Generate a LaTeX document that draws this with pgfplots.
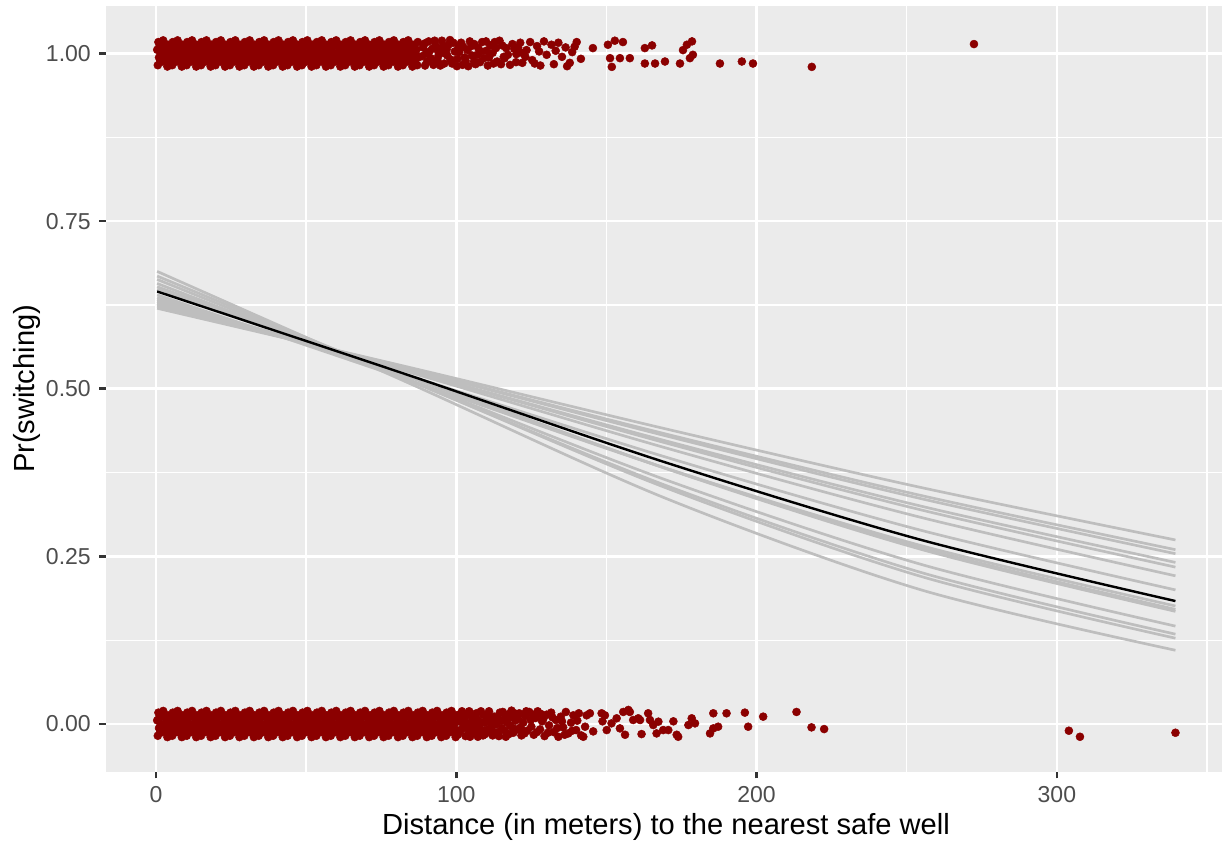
\documentclass[border=0pt]{standalone}
\usepackage{fontspec}
\setmainfont{Liberation Sans}
\usepackage{pgfplots}
\pgfplotsset{compat=1.18}
\definecolor{panelbg}{HTML}{EBEBEB}
\definecolor{tickgray}{HTML}{4D4D4D}
\definecolor{tickmark}{HTML}{333333}
\definecolor{ptred}{HTML}{8B0000}
\definecolor{simgray}{HTML}{BEBEBE}
\begin{document}
\begin{tikzpicture}
\path[use as bounding box] (-43.72bp,-28.58bp) rectangle (460.28bp,318.28bp);
\begin{axis}[
 scale only axis, width=460.28bp, height=315.81bp,
 at={(0,0)}, anchor=south west,
 xmin=-16.65, xmax=355.0, ymin=-0.0711, ymax=1.0708,
 axis background/.style={fill=panelbg},
 axis line style={draw=none},
 xtick={0,100,200,300}, ytick={0,0.25,0.5,0.75,1},
 yticklabels={0.00,0.25,0.50,0.75,1.00},
 xticklabels={0,100,200,300},
 minor xtick={50,150,250,350}, minor ytick={0.125,0.375,0.625,0.875},
 grid=both,
 major grid style={draw=white, line width=1.07bp},
 minor grid style={draw=white, line width=0.53bp},
 tick align=outside, major tick length=2.75bp, minor tick length=0pt,
 xtick pos=bottom, ytick pos=left,
 tick style={draw=tickmark, line width=1.07bp},
 ticklabel style={font=\fontsize{9.5bp}{11bp}\selectfont, text=tickgray},
 xlabel={Distance (in meters) to the nearest safe well},
 ylabel={Pr(switching)},
 label style={font=\fontsize{12bp}{14bp}\selectfont, text=black},
 xlabel style={at={(rel axis cs:0.5018,-0.0826)}, anchor=base},
 ylabel style={at={(rel axis cs:-0.0645,0.5)}, anchor=base},
 clip=true
]
% simulated fits (grey)
\addplot[simgray, line width=1.1bp, smooth] coordinates {(0.387,0.675)(85.2,0.5064)(169.9,0.3363)(254.7,0.2002)(339.5,0.110)};
\addplot[simgray, line width=1.1bp, smooth] coordinates {(0.387,0.668)(85.2,0.5111)(169.9,0.3521)(254.7,0.2202)(339.5,0.128)};
\addplot[simgray, line width=1.1bp, smooth] coordinates {(0.387,0.663)(85.2,0.5102)(169.9,0.3556)(254.7,0.2261)(339.5,0.134)};
\addplot[simgray, line width=1.1bp, smooth] coordinates {(0.387,0.657)(85.2,0.5114)(169.9,0.3639)(254.7,0.2382)(339.5,0.146)};
\addplot[simgray, line width=1.1bp, smooth] coordinates {(0.387,0.652)(85.2,0.5177)(169.9,0.3808)(254.7,0.2606)(339.5,0.168)};
\addplot[simgray, line width=1.1bp, smooth] coordinates {(0.387,0.648)(85.2,0.5158)(169.9,0.3813)(254.7,0.2628)(339.5,0.171)};
\addplot[simgray, line width=1.1bp, smooth] coordinates {(0.387,0.640)(85.2,0.5114)(169.9,0.3813)(254.7,0.2662)(339.5,0.176)};
\addplot[simgray, line width=1.1bp, smooth] coordinates {(0.387,0.636)(85.2,0.5180)(169.9,0.3979)(254.7,0.2890)(339.5,0.200)};
\addplot[simgray, line width=1.1bp, smooth] coordinates {(0.387,0.633)(85.2,0.5235)(169.9,0.4116)(254.7,0.3082)(339.5,0.221)};
\addplot[simgray, line width=1.1bp, smooth] coordinates {(0.387,0.630)(85.2,0.5257)(169.9,0.4190)(254.7,0.3194)(339.5,0.234)};
\addplot[simgray, line width=1.1bp, smooth] coordinates {(0.387,0.627)(85.2,0.5257)(169.9,0.4221)(254.7,0.3250)(339.5,0.241)};
\addplot[simgray, line width=1.1bp, smooth] coordinates {(0.387,0.625)(85.2,0.5284)(169.9,0.4296)(254.7,0.3362)(339.5,0.254)};
\addplot[simgray, line width=1.1bp, smooth] coordinates {(0.387,0.623)(85.2,0.5288)(169.9,0.4324)(254.7,0.3409)(339.5,0.260)};
\addplot[simgray, line width=1.1bp, smooth] coordinates {(0.387,0.620)(85.2,0.5310)(169.9,0.4400)(254.7,0.3528)(339.5,0.2745)};
% fitted curve (black)
\addplot[black, line width=1.0bp, smooth] coordinates {(0.387,0.645)(85.2,0.5186)(169.9,0.3898)(254.7,0.2747)(339.5,0.1834)};
% switched = 1 (jittered)
\addplot[only marks, mark=*, mark size=1.65bp, mark options={draw=ptred, fill=ptred, line width=0.2bp}] coordinates {
(0.6,0.9825)(1.0,0.994)(0.4,1.0055)(0.8,1.017)
(2.2,0.988)(2.6,0.9995)(1.9,1.011)(2.4,1.0195)
(3.8,0.9805)(4.2,0.991)(3.5,1.002)(4.0,1.013)
(5.4,0.9825)(5.8,0.994)(5.1,1.0055)(5.6,1.017)
(7.0,0.988)(7.4,0.9995)(6.7,1.011)(7.2,1.0195)
(8.6,0.9805)(9.0,0.991)(8.3,1.002)(8.8,1.013)
(10.2,0.9825)(10.6,0.994)(9.9,1.0055)(10.4,1.017)
(11.8,0.988)(12.2,0.9995)(11.5,1.011)(12.0,1.0195)
(13.4,0.9805)(13.8,0.991)(13.1,1.002)(13.6,1.013)
(15.0,0.9825)(15.4,0.994)(14.7,1.0055)(15.2,1.017)
(16.6,0.988)(17.0,0.9995)(16.3,1.011)(16.8,1.0195)
(18.2,0.9805)(18.6,0.991)(17.9,1.002)(18.4,1.013)
(19.8,0.9825)(20.2,0.994)(19.5,1.0055)(20.0,1.017)
(21.4,0.988)(21.8,0.9995)(21.1,1.011)(21.6,1.0195)
(23.0,0.9805)(23.4,0.991)(22.7,1.002)(23.2,1.013)
(24.6,0.9825)(25.0,0.994)(24.3,1.0055)(24.8,1.017)
(26.2,0.988)(26.6,0.9995)(25.9,1.011)(26.4,1.0195)
(27.8,0.9805)(28.2,0.991)(27.5,1.002)(28.0,1.013)
(29.4,0.9825)(29.8,0.994)(29.1,1.0055)(29.6,1.017)
(31.0,0.988)(31.4,0.9995)(30.7,1.011)(31.2,1.0195)
(32.6,0.9805)(33.0,0.991)(32.3,1.002)(32.8,1.013)
(34.2,0.9825)(34.6,0.994)(33.9,1.0055)(34.4,1.017)
(35.8,0.988)(36.2,0.9995)(35.5,1.011)(36.0,1.0195)
(37.4,0.9805)(37.8,0.991)(37.1,1.002)(37.6,1.013)
(39.0,0.9825)(39.4,0.994)(38.7,1.0055)(39.2,1.017)
(40.6,0.988)(41.0,0.9995)(40.3,1.011)(40.8,1.0195)
(42.2,0.9805)(42.6,0.991)(41.9,1.002)(42.4,1.013)
(43.8,0.9825)(44.2,0.994)(43.5,1.0055)(44.0,1.017)
(45.4,0.988)(45.8,0.9995)(45.1,1.011)(45.6,1.0195)
(47.0,0.9805)(47.4,0.991)(46.7,1.002)(47.2,1.013)
(48.6,0.9825)(49.0,0.994)(48.3,1.0055)(48.8,1.017)
(50.2,0.988)(50.6,0.9995)(49.9,1.011)(50.4,1.0195)
(51.8,0.9805)(52.2,0.991)(51.5,1.002)(52.0,1.013)
(53.4,0.9825)(53.8,0.994)(53.1,1.0055)(53.6,1.017)
(55.0,0.988)(55.4,0.9995)(54.7,1.011)(55.2,1.0195)
(56.6,0.9805)(57.0,0.991)(56.3,1.002)(56.8,1.013)
(58.2,0.9825)(58.6,0.994)(57.9,1.0055)(58.4,1.017)
(59.8,0.988)(60.2,0.9995)(59.5,1.011)(60.0,1.0195)
(61.4,0.9805)(61.8,0.991)(61.1,1.002)(61.6,1.013)
(63.0,0.9825)(63.4,0.994)(62.7,1.0055)(63.2,1.017)
(64.6,0.988)(65.0,0.9995)(64.3,1.011)(64.8,1.0195)
(66.2,0.9805)(66.6,0.991)(65.9,1.002)(66.4,1.013)
(67.8,0.9825)(68.2,0.994)(67.5,1.0055)(68.0,1.017)
(69.4,0.988)(69.8,0.9995)(69.1,1.011)(69.6,1.0195)
(71.0,0.9805)(71.4,0.991)(70.7,1.002)(71.2,1.013)
(72.6,0.9825)(73.0,0.994)(72.3,1.0055)(72.8,1.017)
(74.2,0.988)(74.6,0.9995)(73.9,1.011)(74.4,1.0195)
(75.8,0.9805)(76.2,0.991)(75.5,1.002)(76.0,1.013)
(77.4,0.9825)(77.8,0.994)(77.1,1.0055)(77.6,1.017)
(79.0,0.988)(79.4,0.9995)(78.7,1.011)(79.2,1.0195)
(80.6,0.9805)(81.0,0.991)(80.3,1.002)(80.8,1.013)
(82.2,0.9825)(82.6,0.994)(81.9,1.0055)(82.4,1.017)
(83.8,0.988)(84.2,0.9995)(83.5,1.011)(84.0,1.0195)
(85.4,0.9805)(85.8,0.991)(85.1,1.002)(85.6,1.013)
(87.0,0.9825)(87.4,0.994)(86.7,1.0055)(87.2,1.017)
(1.4,0.989)(1.6,1.000)(1.2,1.011)(3.0,0.989)(3.2,1.000)(2.8,1.011)(4.6,0.989)(4.8,1.000)(4.4,1.011)
(6.2,0.989)(6.4,1.000)(6.0,1.011)(7.8,0.989)(8.0,1.000)(7.6,1.011)(9.4,0.989)(9.6,1.000)(9.2,1.011)
(11.0,0.989)(11.2,1.000)(10.8,1.011)(12.6,0.989)(12.8,1.000)(12.4,1.011)(14.2,0.989)(14.4,1.000)(14.0,1.011)
(15.8,0.989)(16.0,1.000)(15.6,1.011)(17.4,0.989)(17.6,1.000)(17.2,1.011)(19.0,0.989)(19.2,1.000)(18.8,1.011)
(20.6,0.989)(20.8,1.000)(20.4,1.011)(22.2,0.989)(22.4,1.000)(22.0,1.011)(23.8,0.989)(24.0,1.000)(23.6,1.011)
(25.4,0.989)(25.6,1.000)(25.2,1.011)(27.0,0.989)(27.2,1.000)(26.8,1.011)(28.6,0.989)(28.8,1.000)(28.4,1.011)
(30.2,0.989)(30.4,1.000)(30.0,1.011)(31.8,0.989)(32.0,1.000)(31.6,1.011)(33.4,0.989)(33.6,1.000)(33.2,1.011)
(35.0,0.989)(35.2,1.000)(34.8,1.011)(36.6,0.989)(36.8,1.000)(36.4,1.011)(38.2,0.989)(38.4,1.000)(38.0,1.011)
(39.8,0.989)(40.0,1.000)(39.6,1.011)(41.4,0.989)(41.6,1.000)(41.2,1.011)(43.0,0.989)(43.2,1.000)(42.8,1.011)
(44.6,0.989)(44.8,1.000)(44.4,1.011)(46.2,0.989)(46.4,1.000)(46.0,1.011)(47.8,0.989)(48.0,1.000)(47.6,1.011)
(49.4,0.989)(49.6,1.000)(49.2,1.011)(51.0,0.989)(51.2,1.000)(50.8,1.011)(52.6,0.989)(52.8,1.000)(52.4,1.011)
(54.2,0.989)(54.4,1.000)(54.0,1.011)(55.8,0.989)(56.0,1.000)(55.6,1.011)(57.4,0.989)(57.6,1.000)(57.2,1.011)
(59.0,0.989)(59.2,1.000)(58.8,1.011)(60.6,0.989)(60.8,1.000)(60.4,1.011)(62.2,0.989)(62.4,1.000)(62.0,1.011)
(63.8,0.989)(64.0,1.000)(63.6,1.011)(65.4,0.989)(65.6,1.000)(65.2,1.011)(67.0,0.989)(67.2,1.000)(66.8,1.011)
(68.6,0.989)(68.8,1.000)(68.4,1.011)(70.2,0.989)(70.4,1.000)(70.0,1.011)(71.8,0.989)(72.0,1.000)(71.6,1.011)
(73.4,0.989)(73.6,1.000)(73.2,1.011)(75.0,0.989)(75.2,1.000)(74.8,1.011)(76.6,0.989)(76.8,1.000)(76.4,1.011)
(78.2,0.989)(78.4,1.000)(78.0,1.011)(79.8,0.989)(80.0,1.000)(79.6,1.011)(81.4,0.989)(81.6,1.000)(81.2,1.011)
(83.0,0.989)(83.2,1.000)(82.8,1.011)(84.6,0.989)(84.8,1.000)(84.4,1.011)(86.2,0.989)(86.4,1.000)(86.0,1.011)
(88.7,0.996)(89.5,1.015)(90.3,0.988)(90.8,1.018)(91.0,1.003)(92.0,1.007)(92.4,0.983)(93.1,1.012)(93.7,0.990)(94.0,0.996)
(95.2,1.019)(95.8,1.001)(96.0,0.985)(96.8,1.006)(97.4,1.013)(98.1,0.991)(98.6,0.985)(99.0,1.016)(100.2,0.981)(100.8,1.010)
(101.0,1.002)(102.3,1.010)(102.8,0.994)(103.1,0.989)(104.0,0.981)(104.5,1.018)(105.2,0.997)(106.0,1.014)(106.4,0.984)(107.3,1.008)
(107.9,0.987)(108.6,1.017)(109.2,0.993)(110.0,1.004)(110.5,0.982)(111.3,1.012)(112.1,1.001)(112.8,1.017)(113.6,0.988)(114.4,1.019)
(114.9,0.984)(115.8,0.995)(116.1,0.993)(116.6,1.008)(117.9,0.983)(118.7,1.014)(119.3,1.007)(120.0,0.999)(121.3,1.016)(121.8,1.001)
(122.0,0.986)(123.4,1.005)(124.6,1.017)(125.3,0.990)(126.9,1.011)(128.0,0.982)(129.2,1.018)(130.1,0.998)(131.7,1.013)(132.5,0.984)
(134.0,1.016)(135.2,0.995)(136.4,1.009)(137.8,0.986)(138.6,1.002)(140.1,1.017)(141.5,0.992)
(88.9,1.009)(89.6,0.982)(90.0,1.000)(91.5,0.993)(92.8,1.019)(93.9,1.004)(94.7,0.982)(95.5,1.011)(97.0,0.997)(97.9,1.020)
(99.5,1.003)(100.4,0.992)(101.6,1.016)(102.1,0.983)(103.7,1.005)(105.0,1.011)(105.9,0.988)(107.0,0.998)(108.2,1.003)(109.9,1.018)
(110.9,0.994)(112.4,0.985)(113.2,1.008)(115.3,1.012)(117.2,0.998)(119.9,0.987)(120.6,1.009)(123.0,0.995)(126.1,0.985)(127.6,1.003)
(133.1,1.004)(136.9,0.981)(139.4,1.010)
(145.5,1.008)(150.5,1.013)(152.8,1.019)(155.5,1.017)(151.2,0.993)(151.8,0.980)(154.5,0.993)(157.8,0.993)
(162.8,1.008)(165.2,1.012)(162.8,0.985)(166.2,0.985)(169.5,0.988)(174.5,0.985)(175.5,1.005)(176.8,1.013)
(178.5,1.018)(178.8,0.998)(177.8,0.993)(187.8,0.985)(195.1,0.988)(198.8,0.985)(218.4,0.980)(272.4,1.014)
};
% switched = 0 (jittered)
\addplot[only marks, mark=*, mark size=1.65bp, mark options={draw=ptred, fill=ptred, line width=0.2bp}] coordinates {
(0.6,-0.0175)(1.0,-0.006)(0.4,0.0055)(0.8,0.017)
(2.2,-0.012)(2.6,-0.0005)(1.9,0.011)(2.4,0.0195)
(3.8,-0.0195)(4.2,-0.009)(3.5,0.002)(4.0,0.013)
(5.4,-0.0175)(5.8,-0.006)(5.1,0.0055)(5.6,0.017)
(7.0,-0.012)(7.4,-0.0005)(6.7,0.011)(7.2,0.0195)
(8.6,-0.0195)(9.0,-0.009)(8.3,0.002)(8.8,0.013)
(10.2,-0.0175)(10.6,-0.006)(9.9,0.0055)(10.4,0.017)
(11.8,-0.012)(12.2,-0.0005)(11.5,0.011)(12.0,0.0195)
(13.4,-0.0195)(13.8,-0.009)(13.1,0.002)(13.6,0.013)
(15.0,-0.0175)(15.4,-0.006)(14.7,0.0055)(15.2,0.017)
(16.6,-0.012)(17.0,-0.0005)(16.3,0.011)(16.8,0.0195)
(18.2,-0.0195)(18.6,-0.009)(17.9,0.002)(18.4,0.013)
(19.8,-0.0175)(20.2,-0.006)(19.5,0.0055)(20.0,0.017)
(21.4,-0.012)(21.8,-0.0005)(21.1,0.011)(21.6,0.0195)
(23.0,-0.0195)(23.4,-0.009)(22.7,0.002)(23.2,0.013)
(24.6,-0.0175)(25.0,-0.006)(24.3,0.0055)(24.8,0.017)
(26.2,-0.012)(26.6,-0.0005)(25.9,0.011)(26.4,0.0195)
(27.8,-0.0195)(28.2,-0.009)(27.5,0.002)(28.0,0.013)
(29.4,-0.0175)(29.8,-0.006)(29.1,0.0055)(29.6,0.017)
(31.0,-0.012)(31.4,-0.0005)(30.7,0.011)(31.2,0.0195)
(32.6,-0.0195)(33.0,-0.009)(32.3,0.002)(32.8,0.013)
(34.2,-0.0175)(34.6,-0.006)(33.9,0.0055)(34.4,0.017)
(35.8,-0.012)(36.2,-0.0005)(35.5,0.011)(36.0,0.0195)
(37.4,-0.0195)(37.8,-0.009)(37.1,0.002)(37.6,0.013)
(39.0,-0.0175)(39.4,-0.006)(38.7,0.0055)(39.2,0.017)
(40.6,-0.012)(41.0,-0.0005)(40.3,0.011)(40.8,0.0195)
(42.2,-0.0195)(42.6,-0.009)(41.9,0.002)(42.4,0.013)
(43.8,-0.0175)(44.2,-0.006)(43.5,0.0055)(44.0,0.017)
(45.4,-0.012)(45.8,-0.0005)(45.1,0.011)(45.6,0.0195)
(47.0,-0.0195)(47.4,-0.009)(46.7,0.002)(47.2,0.013)
(48.6,-0.0175)(49.0,-0.006)(48.3,0.0055)(48.8,0.017)
(50.2,-0.012)(50.6,-0.0005)(49.9,0.011)(50.4,0.0195)
(51.8,-0.0195)(52.2,-0.009)(51.5,0.002)(52.0,0.013)
(53.4,-0.0175)(53.8,-0.006)(53.1,0.0055)(53.6,0.017)
(55.0,-0.012)(55.4,-0.0005)(54.7,0.011)(55.2,0.0195)
(56.6,-0.0195)(57.0,-0.009)(56.3,0.002)(56.8,0.013)
(58.2,-0.0175)(58.6,-0.006)(57.9,0.0055)(58.4,0.017)
(59.8,-0.012)(60.2,-0.0005)(59.5,0.011)(60.0,0.0195)
(61.4,-0.0195)(61.8,-0.009)(61.1,0.002)(61.6,0.013)
(63.0,-0.0175)(63.4,-0.006)(62.7,0.0055)(63.2,0.017)
(64.6,-0.012)(65.0,-0.0005)(64.3,0.011)(64.8,0.0195)
(66.2,-0.0195)(66.6,-0.009)(65.9,0.002)(66.4,0.013)
(67.8,-0.0175)(68.2,-0.006)(67.5,0.0055)(68.0,0.017)
(69.4,-0.012)(69.8,-0.0005)(69.1,0.011)(69.6,0.0195)
(71.0,-0.0195)(71.4,-0.009)(70.7,0.002)(71.2,0.013)
(72.6,-0.0175)(73.0,-0.006)(72.3,0.0055)(72.8,0.017)
(74.2,-0.012)(74.6,-0.0005)(73.9,0.011)(74.4,0.0195)
(75.8,-0.0195)(76.2,-0.009)(75.5,0.002)(76.0,0.013)
(77.4,-0.0175)(77.8,-0.006)(77.1,0.0055)(77.6,0.017)
(79.0,-0.012)(79.4,-0.0005)(78.7,0.011)(79.2,0.0195)
(80.6,-0.0195)(81.0,-0.009)(80.3,0.002)(80.8,0.013)
(82.2,-0.0175)(82.6,-0.006)(81.9,0.0055)(82.4,0.017)
(83.8,-0.012)(84.2,-0.0005)(83.5,0.011)(84.0,0.0195)
(85.4,-0.0195)(85.8,-0.009)(85.1,0.002)(85.6,0.013)
(87.0,-0.0175)(87.4,-0.006)(86.7,0.0055)(87.2,0.017)
(88.6,-0.012)(89.0,-0.0005)(88.3,0.011)(88.8,0.0195)
(90.2,-0.0195)(90.6,-0.009)(89.9,0.002)(90.4,0.013)
(91.8,-0.0175)(92.2,-0.006)(91.5,0.0055)(92.0,0.017)
(93.4,-0.012)(93.8,-0.0005)(93.1,0.011)(93.6,0.0195)
(95.0,-0.0195)(95.4,-0.009)(94.7,0.002)(95.2,0.013)
(96.6,-0.0175)(97.0,-0.006)(96.3,0.0055)(96.8,0.017)
(98.2,-0.012)(98.6,-0.0005)(97.9,0.011)(98.4,0.0195)
(99.8,-0.0195)(100.2,-0.009)(99.5,0.002)(100.0,0.013)
(1.4,-0.011)(1.6,0.000)(1.2,0.011)(3.0,-0.011)(3.2,0.000)(2.8,0.011)(4.6,-0.011)(4.8,0.000)(4.4,0.011)
(6.2,-0.011)(6.4,0.000)(6.0,0.011)(7.8,-0.011)(8.0,0.000)(7.6,0.011)(9.4,-0.011)(9.6,0.000)(9.2,0.011)
(11.0,-0.011)(11.2,0.000)(10.8,0.011)(12.6,-0.011)(12.8,0.000)(12.4,0.011)(14.2,-0.011)(14.4,0.000)(14.0,0.011)
(15.8,-0.011)(16.0,0.000)(15.6,0.011)(17.4,-0.011)(17.6,0.000)(17.2,0.011)(19.0,-0.011)(19.2,0.000)(18.8,0.011)
(20.6,-0.011)(20.8,0.000)(20.4,0.011)(22.2,-0.011)(22.4,0.000)(22.0,0.011)(23.8,-0.011)(24.0,0.000)(23.6,0.011)
(25.4,-0.011)(25.6,0.000)(25.2,0.011)(27.0,-0.011)(27.2,0.000)(26.8,0.011)(28.6,-0.011)(28.8,0.000)(28.4,0.011)
(30.2,-0.011)(30.4,0.000)(30.0,0.011)(31.8,-0.011)(32.0,0.000)(31.6,0.011)(33.4,-0.011)(33.6,0.000)(33.2,0.011)
(35.0,-0.011)(35.2,0.000)(34.8,0.011)(36.6,-0.011)(36.8,0.000)(36.4,0.011)(38.2,-0.011)(38.4,0.000)(38.0,0.011)
(39.8,-0.011)(40.0,0.000)(39.6,0.011)(41.4,-0.011)(41.6,0.000)(41.2,0.011)(43.0,-0.011)(43.2,0.000)(42.8,0.011)
(44.6,-0.011)(44.8,0.000)(44.4,0.011)(46.2,-0.011)(46.4,0.000)(46.0,0.011)(47.8,-0.011)(48.0,0.000)(47.6,0.011)
(49.4,-0.011)(49.6,0.000)(49.2,0.011)(51.0,-0.011)(51.2,0.000)(50.8,0.011)(52.6,-0.011)(52.8,0.000)(52.4,0.011)
(54.2,-0.011)(54.4,0.000)(54.0,0.011)(55.8,-0.011)(56.0,0.000)(55.6,0.011)(57.4,-0.011)(57.6,0.000)(57.2,0.011)
(59.0,-0.011)(59.2,0.000)(58.8,0.011)(60.6,-0.011)(60.8,0.000)(60.4,0.011)(62.2,-0.011)(62.4,0.000)(62.0,0.011)
(63.8,-0.011)(64.0,0.000)(63.6,0.011)(65.4,-0.011)(65.6,0.000)(65.2,0.011)(67.0,-0.011)(67.2,0.000)(66.8,0.011)
(68.6,-0.011)(68.8,0.000)(68.4,0.011)(70.2,-0.011)(70.4,0.000)(70.0,0.011)(71.8,-0.011)(72.0,0.000)(71.6,0.011)
(73.4,-0.011)(73.6,0.000)(73.2,0.011)(75.0,-0.011)(75.2,0.000)(74.8,0.011)(76.6,-0.011)(76.8,0.000)(76.4,0.011)
(78.2,-0.011)(78.4,0.000)(78.0,0.011)(79.8,-0.011)(80.0,0.000)(79.6,0.011)(81.4,-0.011)(81.6,0.000)(81.2,0.011)
(83.0,-0.011)(83.2,0.000)(82.8,0.011)(84.6,-0.011)(84.8,0.000)(84.4,0.011)(86.2,-0.011)(86.4,0.000)(86.0,0.011)
(87.8,-0.011)(88.0,0.000)(87.6,0.011)(89.4,-0.011)(89.6,0.000)(89.2,0.011)(91.0,-0.011)(91.2,0.000)(90.8,0.011)
(92.6,-0.011)(92.8,0.000)(92.4,0.011)(94.2,-0.011)(94.4,0.000)(94.0,0.011)(95.8,-0.011)(96.0,0.000)(95.6,0.011)
(97.4,-0.011)(97.6,0.000)(97.2,0.011)(99.0,-0.011)(99.2,0.000)(98.8,0.011)
(100.5,-0.016)(100.9,0.004)(101.4,0.015)(102.0,-0.007)(102.6,0.010)(103.1,-0.018)(103.7,0.001)(104.3,0.019)(104.9,-0.011)(105.4,0.008)
(106.0,-0.003)(106.7,0.016)(107.2,-0.019)(107.8,0.003)(108.5,-0.009)(109.1,0.013)(109.6,-0.015)(110.2,0.006)(110.9,0.019)(111.5,-0.004)
(112.1,-0.017)(112.6,0.011)(113.3,0.000)(113.9,-0.012)(114.5,0.017)(115.2,-0.006)(115.8,0.007)(116.5,-0.019)(117.1,0.014)(117.8,-0.002)
(118.4,0.020)(119.0,-0.013)(119.7,0.005)(120.3,-0.008)(121.0,0.016)(121.7,-0.017)(122.3,0.002)(123.0,0.012)(123.6,-0.010)(124.3,0.018)
(125.0,-0.004)(125.8,-0.016)(126.4,0.009)(127.1,0.019)(127.9,-0.008)(128.6,0.004)(129.4,-0.018)(130.1,0.014)(130.9,-0.002)(131.6,0.017)
(132.4,-0.012)(133.2,0.006)(134.0,-0.019)(134.8,0.011)(135.6,-0.005)(136.5,0.018)(137.3,-0.014)(138.2,0.002)(139.0,0.013)(139.9,-0.009)
(140.8,0.016)(141.6,-0.017)
(100.7,0.010)(101.2,-0.011)(101.9,0.019)(102.4,-0.001)(103.4,0.013)(104.0,-0.008)(104.6,-0.019)(105.1,0.003)(105.9,0.012)(106.4,-0.014)
(107.0,0.007)(107.6,-0.006)(108.2,0.019)(108.9,-0.017)(109.4,0.002)(110.0,-0.009)(110.6,0.012)(111.2,0.004)(111.9,-0.011)(112.8,-0.001)
(113.6,0.009)(114.2,-0.018)(114.9,0.005)(115.5,0.018)(116.2,-0.010)(116.8,0.003)(117.5,-0.015)(118.1,0.010)(118.8,-0.006)(119.4,0.016)
(120.6,0.008)(121.4,-0.005)(122.7,-0.014)(123.3,0.019)(124.8,0.006)(125.5,0.014)(126.9,-0.012)(128.2,0.015)(129.0,0.008)(130.5,-0.013)
(132.0,0.010)(133.6,-0.006)(135.2,0.004)(136.1,-0.016)(138.6,-0.010)(140.3,0.005)
(142.3,-0.019)(142.9,-0.004)(143.4,0.013)(144.5,0.016)(145.6,-0.011)(148.4,0.016)(148.7,0.004)(149.5,0.013)(150.1,-0.009)(151.7,0.001)
(153.4,0.0085)(154.5,-0.0065)(155.6,0.018)(156.2,-0.016)(157.3,0.021)(157.8,0.018)(158.9,0.006)(160.6,0.0085)(161.2,0.006)(161.7,-0.015)
(163.9,0.016)(164.5,0.006)(165.6,-0.0015)(166.7,-0.014)(167.3,0.0035)(168.9,-0.009)(170.6,-0.009)(172.3,0.004)(173.4,-0.016)(173.9,-0.019)
(177.3,-0.0015)(178.4,0.0085)(179.5,0.001)(184.5,-0.014)(185.6,-0.0065)(187.2,-0.004)(185.6,0.016)(190.0,0.016)(196.1,0.017)(197.2,-0.004)
(202.2,0.011)(213.3,0.018)(218.3,-0.005)(222.5,-0.0075)(304.0,-0.010)(307.7,-0.019)(339.5,-0.013)
};
\end{axis}
\end{tikzpicture}
\end{document}
